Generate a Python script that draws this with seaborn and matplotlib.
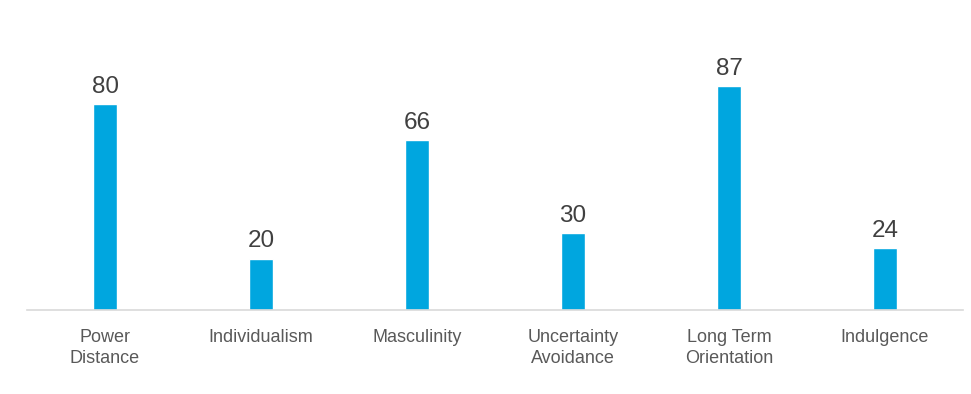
import pandas as pd
import seaborn as sns
import matplotlib.pyplot as plt

categories = ["Power\nDistance", "Individualism", "Masculinity",
              "Uncertainty\nAvoidance", "Long Term\nOrientation", "Indulgence"]
scores = [80, 20, 66, 30, 87, 24]

df = pd.DataFrame({"dimension": categories, "score": scores})

sns.set_style("white")
plt.rcParams["font.family"] = ["Liberation Sans", "DejaVu Sans"]

fig = plt.figure(figsize=(9.71, 3.94), dpi=100)
ax = fig.add_axes([27 / 971, 84 / 394, 936 / 971, 257.5 / 394])

sns.barplot(data=df, x="dimension", y="score", color="#00A6DF",
            saturation=1, width=0.152, ax=ax)

for i, v in enumerate(scores):
    ax.annotate(str(v), (i, v), xytext=(0, 4.5), textcoords="offset points",
                ha="center", va="bottom", fontsize=17.5, color="#404040")

ax.set_xlim(-0.5, len(categories) - 0.5)
ax.set_ylim(0, 100)
ax.set_xlabel("")
ax.set_ylabel("")
ax.set_yticks([])
ax.tick_params(axis="x", length=0, pad=13.5, labelsize=13, labelcolor="#595959")
for lbl in ax.get_xticklabels():
    lbl.set_linespacing(1.3)
for s in ["top", "right", "left"]:
    ax.spines[s].set_visible(False)
ax.spines["bottom"].set_color("#D9D9D9")
ax.spines["bottom"].set_linewidth(1.2)

fig.savefig("out.png", dpi=100)
